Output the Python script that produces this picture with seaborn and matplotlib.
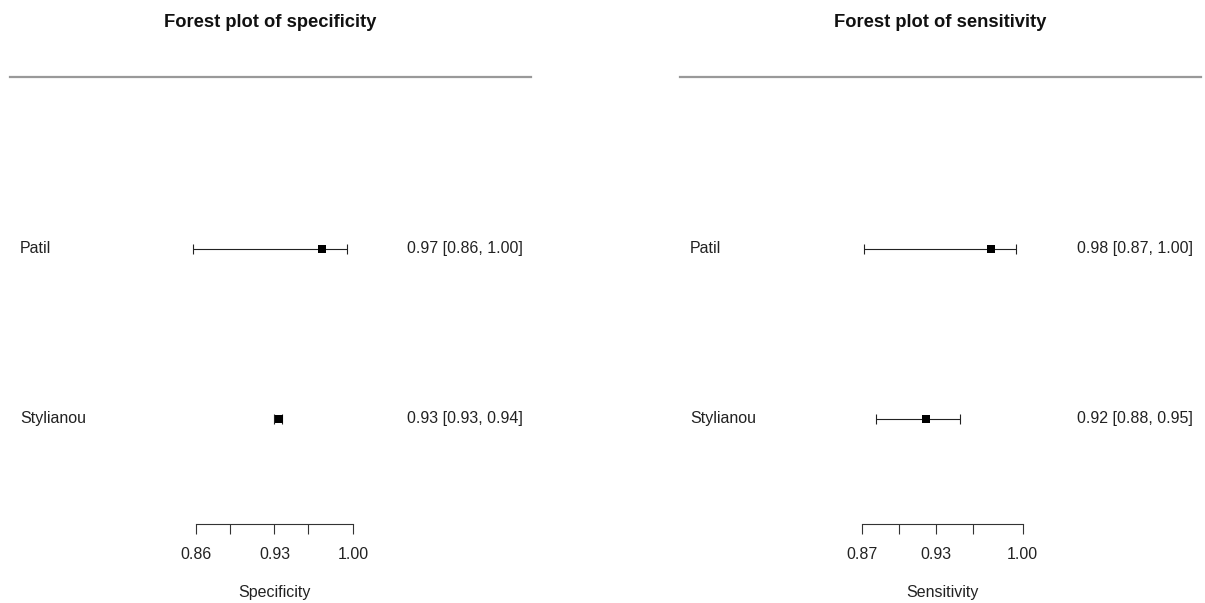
import matplotlib
matplotlib.use('Agg')
import matplotlib.pyplot as plt
import matplotlib.transforms as mtransforms
import seaborn as sns
import pandas as pd

# du lieu doc tu hinh goc
studies = ['Patil', 'Stylianou']
rows = [2, 1]

spec_est = [0.972, 0.934]
spec_lo = [0.857, 0.930]
spec_hi = [0.995, 0.937]
spec_text = ['0.97 [0.86, 1.00]', '0.93 [0.93, 0.94]']
spec_ticks = [0.86, 0.89, 0.93, 0.96, 1.00]
spec_ticklabels = ['0.86', '', '0.93', '', '1.00']

sens_est = [0.974, 0.922]
sens_lo = [0.871, 0.881]
sens_hi = [0.995, 0.949]
sens_text = ['0.98 [0.87, 1.00]', '0.92 [0.88, 0.95]']
sens_ticks = [0.87, 0.90, 0.93, 0.96, 1.00]
sens_ticklabels = ['0.87', '', '0.93', '', '1.00']

sns.set_theme(style='white')
plt.rcParams['font.family'] = ['Liberation Sans', 'DejaVu Sans']

W, H = 1205, 603
FS = 11.5
fig = plt.figure(figsize=(W / 100, H / 100), dpi=100)


def forest(ax, est, lo, hi, text, ticks, ticklabels, xlabel, title, xlim):
    df = pd.DataFrame({'study': studies, 'row': rows, 'est': est,
                       'lo': lo, 'hi': hi, 'text': text})
    err = [df['est'] - df['lo'], df['hi'] - df['est']]
    ax.errorbar(df['est'], df['row'], xerr=err, fmt='none', ecolor='#222222',
                elinewidth=0.8, capsize=3.6, capthick=0.8)
    sns.scatterplot(data=df, x='est', y='row', marker='s', s=34, color='black',
                    edgecolor='black', linewidth=0, ax=ax, legend=False, zorder=3)

    ax.set_xlim(*xlim)
    ax.set_ylim(0.38, 3.01)

    trans = mtransforms.blended_transform_factory(ax.transAxes, ax.transData)
    for _, r in df.iterrows():
        ax.text(0.0192, r['row'], r['study'], transform=trans, ha='left',
                va='center', fontsize=FS, color='#222222')
        ax.text(0.9846, r['row'], r['text'], transform=trans, ha='right',
                va='center', fontsize=FS, color='#222222')

    # truc kieu R
    for s in ['left', 'right']:
        ax.spines[s].set_visible(False)
    ax.spines['top'].set_color('#999999')
    ax.spines['top'].set_linewidth(1.6)
    ax.spines['bottom'].set_bounds(ticks[0], ticks[-1])
    ax.spines['bottom'].set_color('#333333')
    ax.spines['bottom'].set_linewidth(0.8)
    ax.set_xticks(ticks)
    ax.set_xticklabels(ticklabels)
    ax.set_yticks([])
    ax.tick_params(axis='x', direction='out', length=7.2, width=0.8, pad=9.5,
                   colors='#333333', labelsize=FS, bottom=True)
    for lab in ax.get_xticklabels():
        lab.set_color('#222222')

    ax.set_ylabel('')
    ax.set_xlabel(xlabel, fontsize=FS, color='#222222')
    mid = (ticks[0] + ticks[-1]) / 2
    ax.xaxis.set_label_coords((mid - xlim[0]) / (xlim[1] - xlim[0]), -0.137)
    ax.text(0.5, 1.123, title, transform=ax.transAxes, fontsize=13.2,
            fontweight='bold', ha='center', va='center', color='#111111')


ax1 = fig.add_axes([10 / W, 79 / H, 521 / W, 447 / H])
ax2 = fig.add_axes([680 / W, 79 / H, 521 / W, 447 / H])

forest(ax1, spec_est, spec_lo, spec_hi, spec_text, spec_ticks, spec_ticklabels,
       'Specificity', 'Forest plot of specificity', (0.6941, 1.1588))
forest(ax2, sens_est, sens_lo, sens_hi, sens_text, sens_ticks, sens_ticklabels,
       'Sensitivity', 'Forest plot of sensitivity', (0.7221, 1.1447))

fig.savefig('out.png', dpi=100, facecolor='white')
